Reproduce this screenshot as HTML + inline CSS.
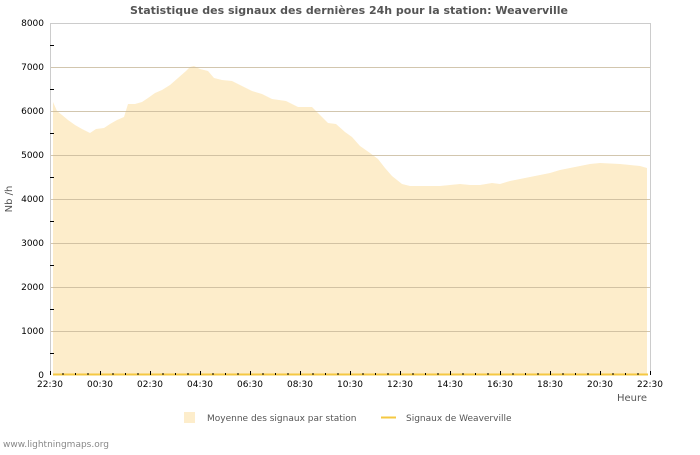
<!DOCTYPE html>
<html><head><meta charset="utf-8"><style>
body{margin:0;background:#fff;}
text{font-family:"DejaVu Sans","Liberation Sans",sans-serif;}
</style></head><body>
<svg width="700" height="450" xmlns="http://www.w3.org/2000/svg">
<rect width="700" height="450" fill="#fff"/>
<text x="349" y="14" text-anchor="middle" font-size="11" font-weight="bold" fill="#555">Statistique des signaux des dernières 24h pour la station: Weaverville</text>
<polygon fill="#fdedcb" points="
53,375 53,102 57,111 62,115 68,120 75,125 82,129 90,133 96,129 104,128 110,124 117,120 124,117 128,104 135,104 142,102 148,98 155,93 162,90 170,85 178,78 186,71 190,67 194,66 200,69 208,71 214,78 222,80 232,81 242,86 252,91 262,94 272,99 286,101 298,107 312,107 318,113 328,123 336,124 345,132 352,137 360,146 370,153 378,159 385,168 392,176 402,184 410,186 420,186 440,186 460,184 470,185 480,185 492,183 500,184 510,181 520,179 530,177 540,175 550,173 560,170 570,168 580,166 590,164 600,163 620,164 630,165 640,166 647,168 647,375"/>
<g stroke="#ccc" stroke-width="1">
<line x1="50" y1="23.5" x2="650" y2="23.5"/>
<line x1="650.5" y1="23" x2="650.5" y2="375"/>
<line x1="50.5" y1="23" x2="50.5" y2="375"/>
</g>
<g stroke="#c8b89a" stroke-width="1" opacity="0.8">
<line x1="51" y1="67.5" x2="650" y2="67.5"/>
<line x1="51" y1="111.5" x2="650" y2="111.5"/>
<line x1="51" y1="155.5" x2="650" y2="155.5"/>
<line x1="51" y1="199.5" x2="650" y2="199.5"/>
<line x1="51" y1="243.5" x2="650" y2="243.5"/>
<line x1="51" y1="287.5" x2="650" y2="287.5"/>
<line x1="51" y1="331.5" x2="650" y2="331.5"/>
</g>
<line x1="53" y1="374.5" x2="648" y2="374.5" stroke="#f5c842" stroke-width="2"/>
<g stroke="#000" stroke-width="1">
<line x1="50" y1="45.5" x2="54" y2="45.5"/><line x1="50" y1="89.5" x2="54" y2="89.5"/><line x1="50" y1="133.5" x2="54" y2="133.5"/><line x1="50" y1="177.5" x2="54" y2="177.5"/><line x1="50" y1="221.5" x2="54" y2="221.5"/><line x1="50" y1="265.5" x2="54" y2="265.5"/><line x1="50" y1="309.5" x2="54" y2="309.5"/><line x1="50" y1="353.5" x2="54" y2="353.5"/>
</g>
<g id="xt" stroke="#000" stroke-width="1"></g>
<g font-size="9" fill="#000" text-anchor="end">
<text x="44" y="26">8000</text><text x="44" y="70">7000</text><text x="44" y="114">6000</text><text x="44" y="158">5000</text><text x="44" y="202">4000</text><text x="44" y="246">3000</text><text x="44" y="290">2000</text><text x="44" y="334">1000</text><text x="44" y="378">0</text>
</g>
<g font-size="9" fill="#000" text-anchor="middle">
<text x="50" y="387">22:30</text><text x="100" y="387">00:30</text><text x="150" y="387">02:30</text><text x="200" y="387">04:30</text><text x="250" y="387">06:30</text><text x="300" y="387">08:30</text><text x="350" y="387">10:30</text><text x="400" y="387">12:30</text><text x="450" y="387">14:30</text><text x="500" y="387">16:30</text><text x="550" y="387">18:30</text><text x="600" y="387">20:30</text><text x="650" y="387">22:30</text>
</g>
<text x="647" y="401" text-anchor="end" font-size="10" fill="#555">Heure</text>
<text transform="translate(12,199) rotate(-90)" text-anchor="middle" font-size="10" fill="#555">Nb /h</text>
<rect x="184" y="412" width="11" height="11" fill="#fdedcb"/>
<text x="207" y="421" font-size="9" fill="#555">Moyenne des signaux par station</text>
<line x1="381" y1="417.5" x2="396" y2="417.5" stroke="#f5c842" stroke-width="2"/>
<text x="406" y="421" font-size="9" fill="#555">Signaux de Weaverville</text>
<text x="3" y="447" font-size="9" fill="#888">www.lightningmaps.org</text>
</svg>
<script>
var g=document.getElementById('xt'),s='';
for(var i=0;i<=48;i++){var x=50+i*12.5+0.5;var h=(i%4==0)?4:2;s+='<line x1="'+x+'" y1="'+(375-h)+'" x2="'+x+'" y2="375"/>';}
g.innerHTML=s;
</script>
</body></html>
